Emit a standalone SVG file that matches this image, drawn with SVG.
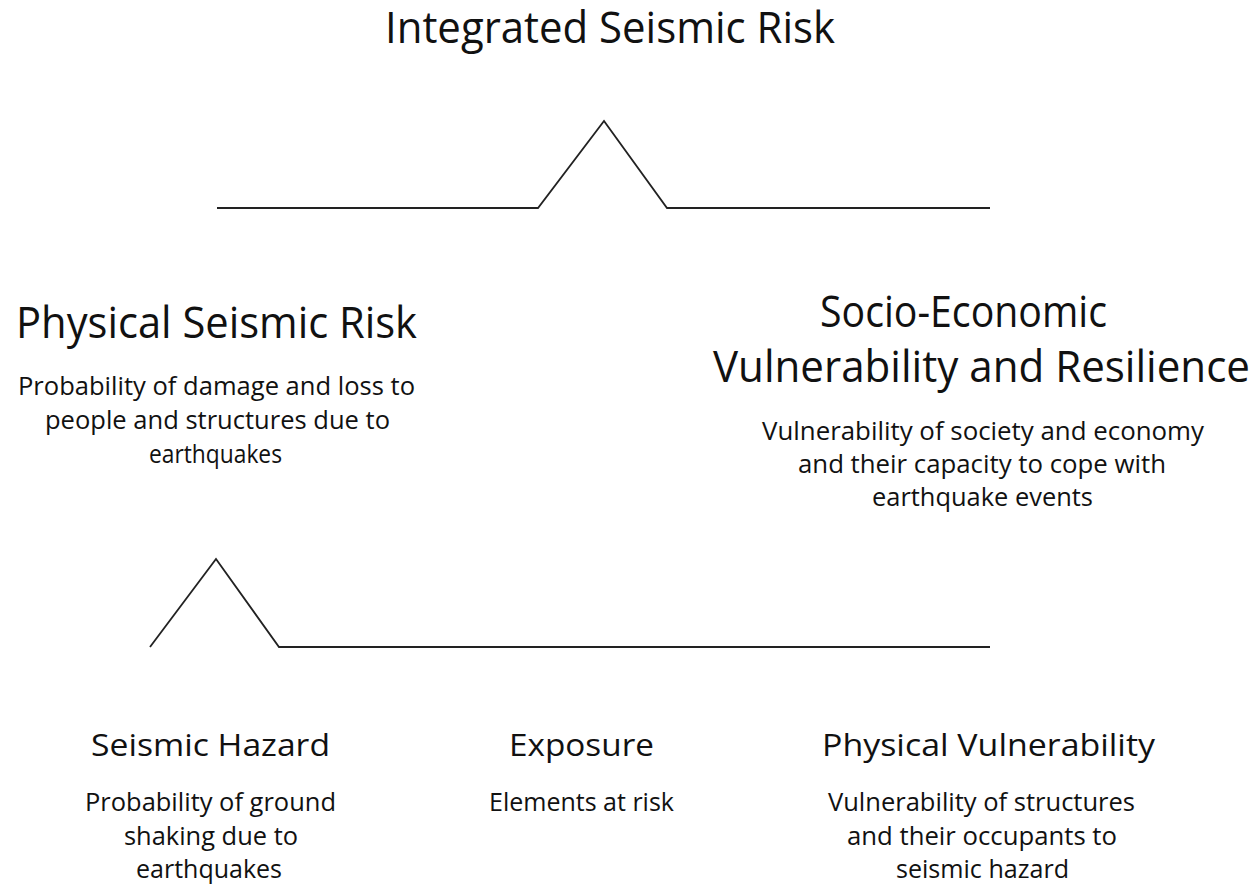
<svg xmlns="http://www.w3.org/2000/svg" width="1255" height="884" viewBox="0 0 1255 884">
  <style>
    text { font-family: "Open Sans", "Noto Sans", "Liberation Sans", sans-serif; fill: #111; }
    .title { font-size: 44px; }
    .head { font-size: 44px; }
    .sub { font-size: 26px; }
    .bhead { font-size: 31px; }
    .bsub { font-size: 26px; }
    .link { fill: none; stroke: #222; stroke-width: 1.8; stroke-linejoin: miter; }
  </style>
  <rect width="1255" height="884" fill="#ffffff"/>

  <!-- branching connectors -->
  <g id="connectors">
    <polyline class="link" points="217,208 538,208 604,121 667,208 990,208"/>
    <polyline class="link" points="150,647 216,559 279,647 990,647"/>
  </g>

  <g id="integrated-risk">
    <text class="title" x="385" y="43" textLength="450" lengthAdjust="spacingAndGlyphs">Integrated Seismic Risk</text>
  </g>

  <g id="physical-risk">
    <text class="head" x="16" y="338" textLength="401" lengthAdjust="spacingAndGlyphs">Physical Seismic Risk</text>
    <text class="sub" x="18" y="395" textLength="397" lengthAdjust="spacingAndGlyphs">Probability of damage and loss to</text>
    <text class="sub" x="45" y="429" textLength="345" lengthAdjust="spacingAndGlyphs">people and structures due to</text>
    <text class="sub" x="149" y="463" textLength="133" lengthAdjust="spacingAndGlyphs">earthquakes</text>
  </g>

  <g id="socio-economic">
    <text class="head" x="820" y="327" textLength="287" lengthAdjust="spacingAndGlyphs">Socio-Economic</text>
    <text class="head" x="713" y="382" textLength="537" lengthAdjust="spacingAndGlyphs">Vulnerability and Resilience</text>
    <text class="sub" x="762" y="440" textLength="442" lengthAdjust="spacingAndGlyphs">Vulnerability of society and economy</text>
    <text class="sub" x="798" y="473" textLength="368" lengthAdjust="spacingAndGlyphs">and their capacity to cope with</text>
    <text class="sub" x="872" y="506" textLength="221" lengthAdjust="spacingAndGlyphs">earthquake events</text>
  </g>

  <g id="seismic-hazard">
    <text class="bhead" x="91" y="756" textLength="239" lengthAdjust="spacingAndGlyphs">Seismic Hazard</text>
    <text class="bsub" x="85" y="811" textLength="251" lengthAdjust="spacingAndGlyphs">Probability of ground</text>
    <text class="bsub" x="124" y="845" textLength="174" lengthAdjust="spacingAndGlyphs">shaking due to</text>
    <text class="bsub" x="136" y="878" textLength="146" lengthAdjust="spacingAndGlyphs">earthquakes</text>
  </g>

  <g id="exposure">
    <text class="bhead" x="509" y="756" textLength="145" lengthAdjust="spacingAndGlyphs">Exposure</text>
    <text class="bsub" x="489" y="811" textLength="185" lengthAdjust="spacingAndGlyphs">Elements at risk</text>
  </g>

  <g id="physical-vulnerability">
    <text class="bhead" x="822" y="756" textLength="333" lengthAdjust="spacingAndGlyphs">Physical Vulnerability</text>
    <text class="bsub" x="828" y="811" textLength="307" lengthAdjust="spacingAndGlyphs">Vulnerability of structures</text>
    <text class="bsub" x="847" y="845" textLength="270" lengthAdjust="spacingAndGlyphs">and their occupants to</text>
    <text class="bsub" x="896" y="878" textLength="173" lengthAdjust="spacingAndGlyphs">seismic hazard</text>
  </g>
</svg>
